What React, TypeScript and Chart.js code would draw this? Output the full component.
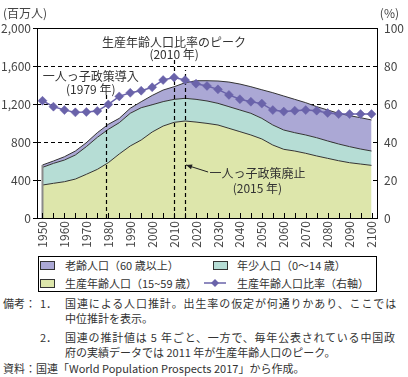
import React, { useEffect, useRef } from "react";
import { Chart, registerables } from "chart.js";
Chart.register(...registerables);

const years = [
  "1950", "1955", "1960", "1965", "1970", "1975", "1980", "1985", "1990", "1995",
  "2000", "2005", "2010", "2015", "2020", "2025", "2030", "2035", "2040", "2045",
  "2050", "2055", "2060", "2065", "2070", "2075", "2080", "2085", "2090", "2095", "2100",
];
// 生産年齢人口（15~59歳）, 百万人
const working = [347, 365, 382, 410, 460, 512, 582, 674, 758, 821, 905, 968, 1007, 1021, 1010, 996, 979, 944, 909, 874, 832, 768, 723, 705, 681, 653, 628, 603, 582, 568, 554];
// 年少人口（0~14歳）
const youth = [186, 210, 228, 253, 291, 337, 351, 329, 344, 340, 287, 257, 242, 239, 239, 236, 228, 228, 228, 228, 217, 211, 203, 193, 193, 192, 183, 176, 169, 158, 151];
// 老齢人口（60歳以上）
const elderly = [25, 25, 35, 42, 42, 49, 53, 46, 53, 63, 98, 122, 133, 164, 196, 213, 235, 259, 273, 280, 301, 340, 358, 351, 340, 327, 326, 323, 326, 330, 327];
// 生産年齢人口比率（%）
const ratio = [61.7, 58.6, 56.8, 55.6, 55.8, 56.3, 59.8, 64.0, 65.9, 67.0, 68.8, 72.6, 74.0, 72.6, 70.7, 69.5, 67.7, 64.8, 62.5, 61.2, 60.2, 56.8, 56.0, 56.5, 56.8, 56.5, 55.3, 54.7, 54.7, 54.7, 54.7];

const leftTicks = [0, 400, 800, 1200, 1600, 2000];
const rightTicks = [0, 20, 40, 60, 80, 100];

// annotation markers: year, top value (百万人)
const markerYears = [1979, 2010, 2015];
const markerTops = [1326, 1663, 1558];
// annotation texts: text, year, value
const noteTexts: [string, number, number][] = [
  ["生産年齢人口比率のピーク", 2010, 1852],
  ["(2010 年)", 2010, 1726],
  ["一人っ子政策導入", 1972, 1495],
  ["(1979 年)", 1972, 1358],
  ["一人っ子政策廃止", 2048, 474],
  ["(2015 年)", 2048, 316],
];
const arrowFrom: [number, number] = [2025.5, 484];
const arrowTo: [number, number] = [2015, 558];

const C_OLD = "#aba8d5";
const C_YOUNG = "#b6ddd5";
const C_WORK = "#dde6ab";
const C_LINE = "#6a63aa";
const FONT = '"Noto Sans CJK JP", "Noto Sans", sans-serif';
const TXT = "#333";

const yearIdx = (y: number) => (y - Number(years[0])) / 5;

const decor = {
  id: "decor",
  afterDatasetDraw(chart: any, args: any) {
    if (args.index !== 1) return;
    const ctx = chart.ctx;
    const xs = chart.scales.x;
    const ys = chart.scales.y;
    ctx.save();
    // left edge of stacked area
    ctx.strokeStyle = "#8a8a8a";
    ctx.lineWidth = 2;
    ctx.beginPath();
    const x0 = xs.getPixelForValue(0);
    ctx.moveTo(x0, ys.getPixelForValue(0));
    ctx.lineTo(x0, ys.getPixelForValue(working[0] + youth[0] + elderly[0]));
    ctx.stroke();
    // vertical dashed markers
    ctx.strokeStyle = "#000";
    ctx.lineWidth = 1.2;
    ctx.setLineDash([4, 3]);
    markerYears.forEach((yr, i) => {
      const x = Math.round(xs.getPixelForValue(yearIdx(yr))) + 0.5;
      ctx.beginPath();
      ctx.moveTo(x, ys.getPixelForValue(0));
      ctx.lineTo(x, ys.getPixelForValue(markerTops[i]));
      ctx.stroke();
    });
    ctx.restore();
  },
  afterDraw(chart: any) {
    const ctx = chart.ctx;
    const a = chart.chartArea;
    const xs = chart.scales.x;
    const ys = chart.scales.y;
    const y1 = chart.scales.y1;
    ctx.save();
    // frame
    ctx.strokeStyle = "#000";
    ctx.lineWidth = 1;
    ctx.setLineDash([]);
    ctx.strokeRect(Math.round(a.left) + 0.5, Math.round(a.top) + 0.5, Math.round(a.right - a.left), Math.round(a.bottom - a.top));
    // inner ticks on x axis
    ctx.beginPath();
    years.forEach((_, i) => {
      const x = Math.round(xs.getPixelForValue(i)) + 0.5;
      ctx.moveTo(x, a.bottom);
      ctx.lineTo(x, a.bottom - 5);
    });
    // inner ticks on right axis
    rightTicks.forEach((t) => {
      const y = Math.round(y1.getPixelForValue(t)) + 0.5;
      ctx.moveTo(a.right, y);
      ctx.lineTo(a.right - 4, y);
    });
    ctx.stroke();
    // annotation texts
    ctx.fillStyle = TXT;
    ctx.font = "12px " + FONT;
    ctx.textAlign = "center";
    ctx.textBaseline = "middle";
    noteTexts.forEach(([t, yr, v]) => {
      ctx.fillText(t, xs.getPixelForValue(yearIdx(yr)), ys.getPixelForValue(v));
    });
    // arrow
    const ax = xs.getPixelForValue(yearIdx(arrowFrom[0]));
    const ay = ys.getPixelForValue(arrowFrom[1]);
    const bx = xs.getPixelForValue(yearIdx(arrowTo[0])) + 1;
    const by = ys.getPixelForValue(arrowTo[1]);
    ctx.strokeStyle = "#222";
    ctx.lineWidth = 1;
    ctx.beginPath();
    ctx.moveTo(ax, ay);
    ctx.lineTo(bx, by);
    ctx.stroke();
    const ang = Math.atan2(by - ay, bx - ax);
    ctx.fillStyle = "#222";
    ctx.beginPath();
    ctx.moveTo(bx, by);
    ctx.lineTo(bx - 6 * Math.cos(ang) + 2.5 * Math.sin(ang), by - 6 * Math.sin(ang) - 2.5 * Math.cos(ang));
    ctx.lineTo(bx - 6 * Math.cos(ang) - 2.5 * Math.sin(ang), by - 6 * Math.sin(ang) + 2.5 * Math.cos(ang));
    ctx.closePath();
    ctx.fill();
    // axis unit labels
    ctx.fillStyle = "#444";
    ctx.textAlign = "left";
    ctx.fillText("(百万人)", 3, 13);
    ctx.textAlign = "right";
    ctx.fillText("(%)", 399, 13);
    ctx.restore();
  },
};

export default function App() {
  const ref = useRef<HTMLCanvasElement>(null);
  useEffect(() => {
    document.body.style.margin = "0";
    const chart = new Chart(ref.current!, {
      type: "line",
      data: {
        labels: years,
        datasets: [
          {
            label: "生産年齢人口比率（右軸）",
            data: ratio,
            yAxisID: "y1",
            borderColor: C_LINE,
            backgroundColor: C_LINE,
            borderWidth: 1.5,
            pointStyle: "rectRot",
            pointRadius: 4.5,
            pointBackgroundColor: C_LINE,
            pointBorderColor: C_LINE,
            pointBorderWidth: 0.5,
            fill: false,
          },
          {
            label: "生産年齢人口（15~59 歳）",
            data: working,
            yAxisID: "y",
            borderColor: "#333",
            borderWidth: 1,
            backgroundColor: C_WORK,
            pointRadius: 0,
            fill: "origin",
          },
          {
            label: "年少人口（0～14 歳）",
            data: youth,
            yAxisID: "y",
            borderColor: "#333",
            borderWidth: 1,
            backgroundColor: C_YOUNG,
            pointRadius: 0,
            fill: "-1",
          },
          {
            label: "老齢人口（60 歳以上）",
            data: elderly,
            yAxisID: "y",
            borderColor: "#333",
            borderWidth: 1,
            backgroundColor: C_OLD,
            pointRadius: 0,
            fill: "-1",
          },
        ],
      },
      options: {
        animation: false,
        responsive: false,
        events: [],
        layout: { padding: { top: 28, left: 0, right: 0, bottom: 0 } },
        plugins: { legend: { display: false }, tooltip: { enabled: false } },
        scales: {
          x: {
            offset: true,
            grid: { display: true, drawOnChartArea: false, drawTicks: false },
            border: { display: false },
            ticks: {
              autoSkip: false,
              minRotation: 90,
              maxRotation: 90,
              padding: 3,
              color: "#444",
              font: { family: FONT, size: 12 },
              callback: (_v: any, i: number) => (i % 2 === 0 ? years[i] : ""),
            },
            afterFit: (s: any) => {
              s.height = 34;
            },
          },
          y: {
            stacked: true,
            min: 0,
            max: 2000,
            afterBuildTicks: (s: any) => {
              s.ticks = leftTicks.map((v) => ({ value: v }));
            },
            ticks: {
              padding: 2,
              color: "#444",
              font: { family: FONT, size: 12 },
              callback: (v: any) => Number(v).toLocaleString("en-US"),
            },
            grid: {
              color: (c: any) =>
                c.tick && (c.tick.value === 0 || c.tick.value === 2000) ? "rgba(0,0,0,0)" : "#000",
              tickColor: "#000",
              tickLength: 4,
              lineWidth: 1,
            },
            border: { display: false, dash: [4, 3] },
            afterFit: (s: any) => {
              s.width = 37;
            },
          },
          y1: {
            position: "right",
            min: 0,
            max: 100,
            afterBuildTicks: (s: any) => {
              s.ticks = rightTicks.map((v) => ({ value: v }));
            },
            ticks: {
              padding: 7,
              color: "#444",
              font: { family: FONT, size: 12 },
            },
            grid: { drawOnChartArea: false, drawTicks: false },
            border: { display: false },
            afterFit: (s: any) => {
              s.width = 31;
            },
          },
        },
      },
      plugins: [decor],
    } as any);
    return () => chart.destroy();
  }, []);

  const abs = (left: number, top: number, extra: any = {}) => ({
    position: "absolute" as const,
    left,
    top,
    whiteSpace: "nowrap" as const,
    ...extra,
  });
  const sw = (left: number, top: number, bg: string) => (
    <div style={abs(left, top, { width: 15, height: 9, background: bg, border: "1px solid #333", boxSizing: "border-box" })} />
  );
  const lt = { fontSize: 11, lineHeight: "14px", color: TXT };

  return (
    <div style={{ position: "relative", width: 408, height: 377, fontFamily: FONT, overflow: "hidden", background: "#fff" }}>
      <canvas ref={ref} width={408} height={252} style={{ position: "absolute", left: 0, top: 0 }} />
      <div style={abs(38, 256, { width: 339, height: 36, border: "1px solid #000", boxSizing: "border-box" })} />
      {sw(40, 261, C_OLD)}
      <div style={abs(65, 258, lt)}>老齢人口（60 歳以上）</div>
      {sw(213, 261, C_YOUNG)}
      <div style={abs(237, 258, lt)}>年少人口（0～14 歳）</div>
      {sw(40, 279, C_WORK)}
      <div style={abs(65, 276, lt)}>生産年齢人口（15~59 歳）</div>
      <svg style={abs(203, 277)} width={24} height={12}>
        <line x1={1} y1={6} x2={23} y2={6} stroke={C_LINE} strokeWidth={1.5} />
        <polygon points="12,2 16,6 12,10 8,6" fill={C_LINE} />
      </svg>
      <div style={abs(237, 276, lt)}>生産年齢人口比率（右軸）</div>

      <div style={abs(3, 296, lt)}>備考：</div>
      <div style={abs(40, 296, lt)}>1．</div>
      <div style={abs(65, 296, { ...lt, letterSpacing: "0.89px" })}>国連による人口推計。出生率の仮定が何通りかあり、ここでは</div>
      <div style={abs(65, 311, lt)}>中位推計を表示。</div>
      <div style={abs(40, 330, lt)}>2．</div>
      <div style={abs(65, 330, { ...lt, letterSpacing: "0.8px" })}>国連の推計値は 5 年ごと、一方で、毎年公表されている中国政</div>
      <div style={abs(65, 345, lt)}>府の実績データでは 2011 年が生産年齢人口のピーク。</div>
      <div style={abs(3, 361, lt)}>資料：国連「World Population Prospects 2017」から作成。</div>
    </div>
  );
}
